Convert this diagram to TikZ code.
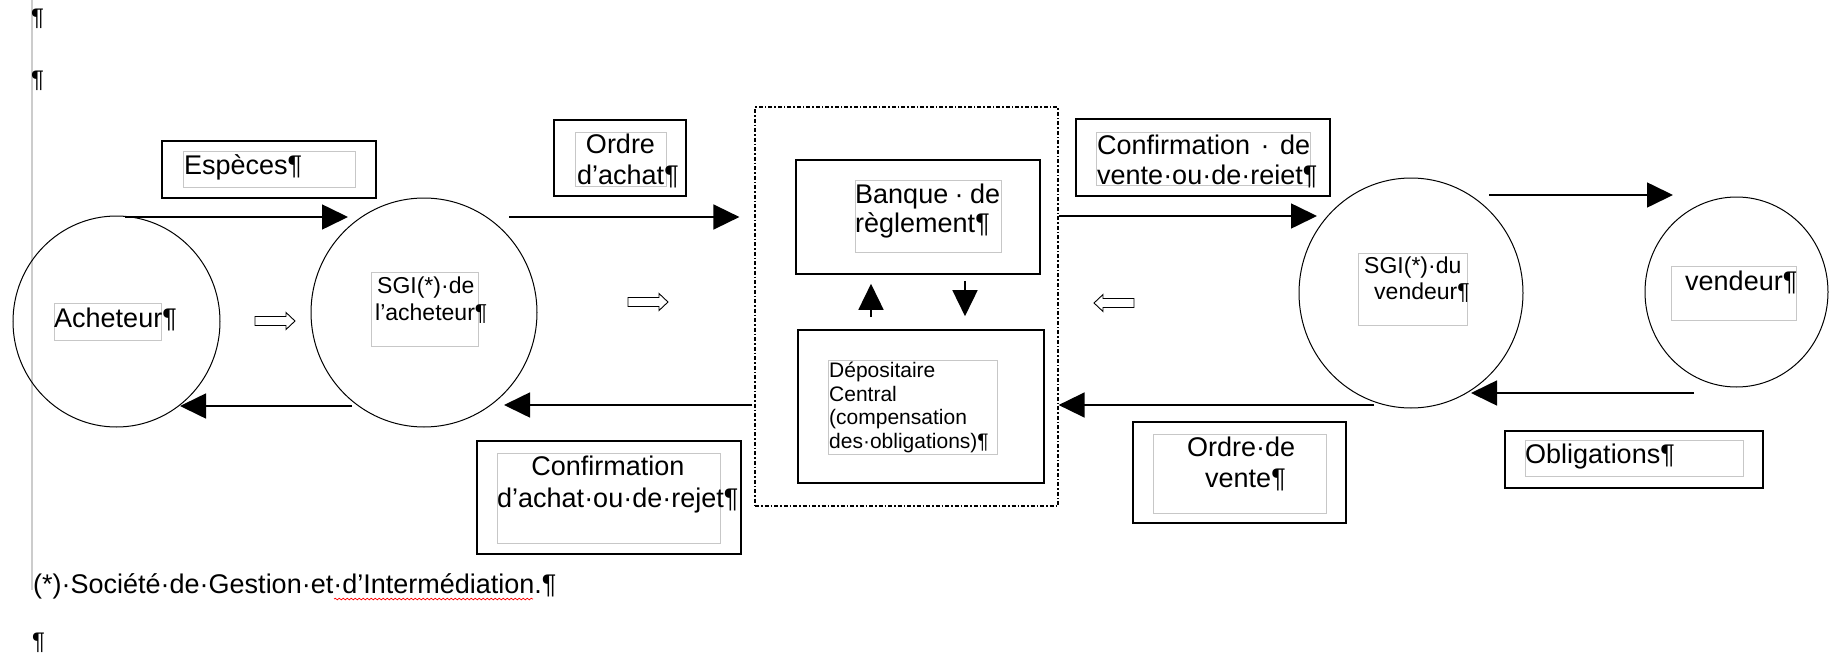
\documentclass[tikz,border=0pt]{standalone}
\usepackage{fontspec}
\setmainfont{Liberation Sans}
\usetikzlibrary{arrows.meta,calc,shapes.geometric,decorations.pathmorphing}
\begin{document}
\begin{tikzpicture}[x=1pt,y=-1pt,
  outer/.style={draw, line width=1.6pt, inner sep=0pt},
  gbox/.style={draw=black!22, line width=1pt},
  circ/.style={draw, ellipse, line width=1pt, inner sep=0pt},
  txt/.style={inner sep=0pt, anchor=base west, font=\fontsize{27}{30}\selectfont},
  txtc/.style={inner sep=0pt, anchor=base, font=\fontsize{27}{30}\selectfont},
  stxt/.style={inner sep=0pt, anchor=base west, font=\fontsize{23}{27}\selectfont},
  dtxt/.style={inner sep=0pt, anchor=base west, font=\fontsize{21}{24}\selectfont},
  ptxt/.style={inner sep=0pt, anchor=base west, font=\fontsize{24}{26}\selectfont},
  arr/.style={line width=1.6pt, -{Triangle[length=26pt,width=25pt]}},
  hol/.pic={\draw[line width=0.9pt, line join=miter] (-20,-4.5) -- (11,-4.5) -- (11,-8.5) -- (20,0) -- (11,8.5) -- (11,4.5) -- (-20,4.5) -- cycle;},
]
\useasboundingbox (0,0) rectangle (1829,653);
% page margin line
\draw[black!20, line width=1.5pt] (32,0) -- (32,590);
\node[ptxt] (p1) at (31,25) {¶};
\node[ptxt] (p2) at (31,87) {¶};
\node[ptxt] (p3) at (32,649) {¶};

% circles
\node[circ, minimum width=207pt, minimum height=211pt] (ach) at (116.5,321.5) {};
\node[circ, minimum width=226pt, minimum height=229pt] (sgia) at (424,312.5) {};
\node[circ, minimum width=224pt, minimum height=230pt] (sgiv) at (1411,293) {};
\node[circ, minimum width=183pt, minimum height=190pt] (vend) at (1736.5,292) {};

% central dotted container
\node[draw, line width=1.2pt, dash pattern=on 4pt off 2pt on 1.5pt off 2pt, minimum width=303pt, minimum height=399pt, inner sep=0pt] (crn) at (906.5,306.5) {};

% label boxes
\node[outer, minimum width=214pt, minimum height=57pt] (espB) at (269,169.5) {};
\node[outer, minimum width=132pt, minimum height=76pt] (oaB) at (620,158) {};
\node[outer, minimum width=254pt, minimum height=77pt] (cvB) at (1203,157.5) {};
\node[outer, minimum width=244pt, minimum height=114pt] (bqB) at (918,217) {};
\node[outer, minimum width=246pt, minimum height=153pt] (dpB) at (921,406.5) {};
\node[outer, minimum width=264pt, minimum height=113pt] (caB) at (609,497.5) {};
\node[outer, minimum width=213pt, minimum height=101pt] (ovB) at (1239.5,472.5) {};
\node[outer, minimum width=258pt, minimum height=57pt] (obB) at (1634,459.5) {};

% gray text frames
\draw[gbox] (183,151) rectangle (355,187);
\draw[gbox] (575,132) rectangle (666,186);
\draw[gbox] (1096,132) rectangle (1310,185);
\draw[gbox] (855,180) rectangle (1001,252);
\draw[gbox] (828,360) rectangle (997,454);
\draw[gbox] (497,453) rectangle (720,543);
\draw[gbox] (1153,434) rectangle (1326,513);
\draw[gbox] (1525,440) rectangle (1743,476);
\draw[gbox] (54,303) rectangle (161,340);
\draw[gbox] (371,272) rectangle (478,346);
\draw[gbox] (1358,253) rectangle (1467,325);
\draw[gbox] (1671,266) rectangle (1796,320);

% texts
\node[txt] (tEsp) at (184,174) {Espèces¶};
\node[txtc] (tOa1) at (620.5,153) {Ordre};
\node[txt] (tOa2) at (577,184) {d’achat¶};
\node[txt] (tCv1) at (1097,154) {\makebox[213pt][s]{Confirmation · de}};
\node[txt] (tCv2) at (1097,184) {vente·ou·de·reiet¶};
\node[txt] (tBq1) at (855,203) {\makebox[145pt][s]{Banque · de}};
\node[txt] (tBq2) at (855,232) {règlement¶};
\node[dtxt] (tDp1) at (829,377) {Dépositaire};
\node[dtxt] (tDp2) at (829,401) {Central};
\node[dtxt] (tDp3) at (829,424) {(compensation};
\node[dtxt] (tDp4) at (829,448) {des·obligations)¶};
\node[txtc] (tCa1) at (608,475) {Confirmation};
\node[txt] (tCa2) at (497,507) {d’achat·ou·de·rejet¶};
\node[txt] (tOv1) at (1187,456) {Ordre·de};
\node[txt] (tOv2) at (1205,487) {vente¶};
\node[txt] (tOb) at (1525,463) {Obligations¶};
\node[txt] (tAch) at (54,327) {Acheteur¶};
\node[stxt] (tSa1) at (377,293) {SGI(*)·de};
\node[stxt] (tSa2) at (375,320) {l'acheteur¶};
\node[stxt] (tSv1) at (1364,273) {SGI(*)·du};
\node[stxt] (tSv2) at (1374,299) {vendeur¶};
\node[txt] (tVd) at (1685,290) {vendeur¶};

% footnote
\node[txt] (fn) at (33,593) {(*)·Société·de·Gestion·et·d’Intermédiation.¶};
\draw[red, line width=0.7pt, decorate, decoration={snake, amplitude=0.8pt, segment length=4pt}] (334,599) -- (533,599);

% flow arrows
\draw[arr] ($(ach.center)+(8.5,-104.5)$) -- ($(sgia.center)+(-76,-95.5)$);
\draw[arr] ($(sgia.center)+(85,-95.5)$) -- ($(crn.west)+(-15,-89.5)$);
\draw[arr] ($(crn.east)+(0,-90.5)$) -- ($(sgiv.center)+(-94,-77)$);
\draw[arr] ($(sgiv.center)+(78,-98)$) -- ($(vend.center)+(-63.5,-97)$);
\draw[arr] ($(vend.center)+(-42.5,101)$) -- ($(sgiv.center)+(60,100)$);
\draw[arr] ($(sgiv.center)+(-37,112)$) -- ($(crn.east)+(0,98.5)$);
\draw[arr] ($(crn.west)+(-2,98.5)$) -- ($(sgia.center)+(80,92.5)$);
\draw[arr] ($(sgia.center)+(-72,93.5)$) -- ($(ach.center)+(63.5,84.5)$);
\draw[arr] ($(dpB.north)+(-50,-12)$) -- ($(bqB.south)+(-47,9)$);
\draw[arr] ($(bqB.south)+(47,6)$) -- ($(dpB.north)+(44,-13)$);

% hollow direction arrows
\pic at (275,321) {hol};
\pic at (648,302) {hol};
\pic[rotate=180] at (1114,303) {hol};
\end{tikzpicture}
\end{document}
